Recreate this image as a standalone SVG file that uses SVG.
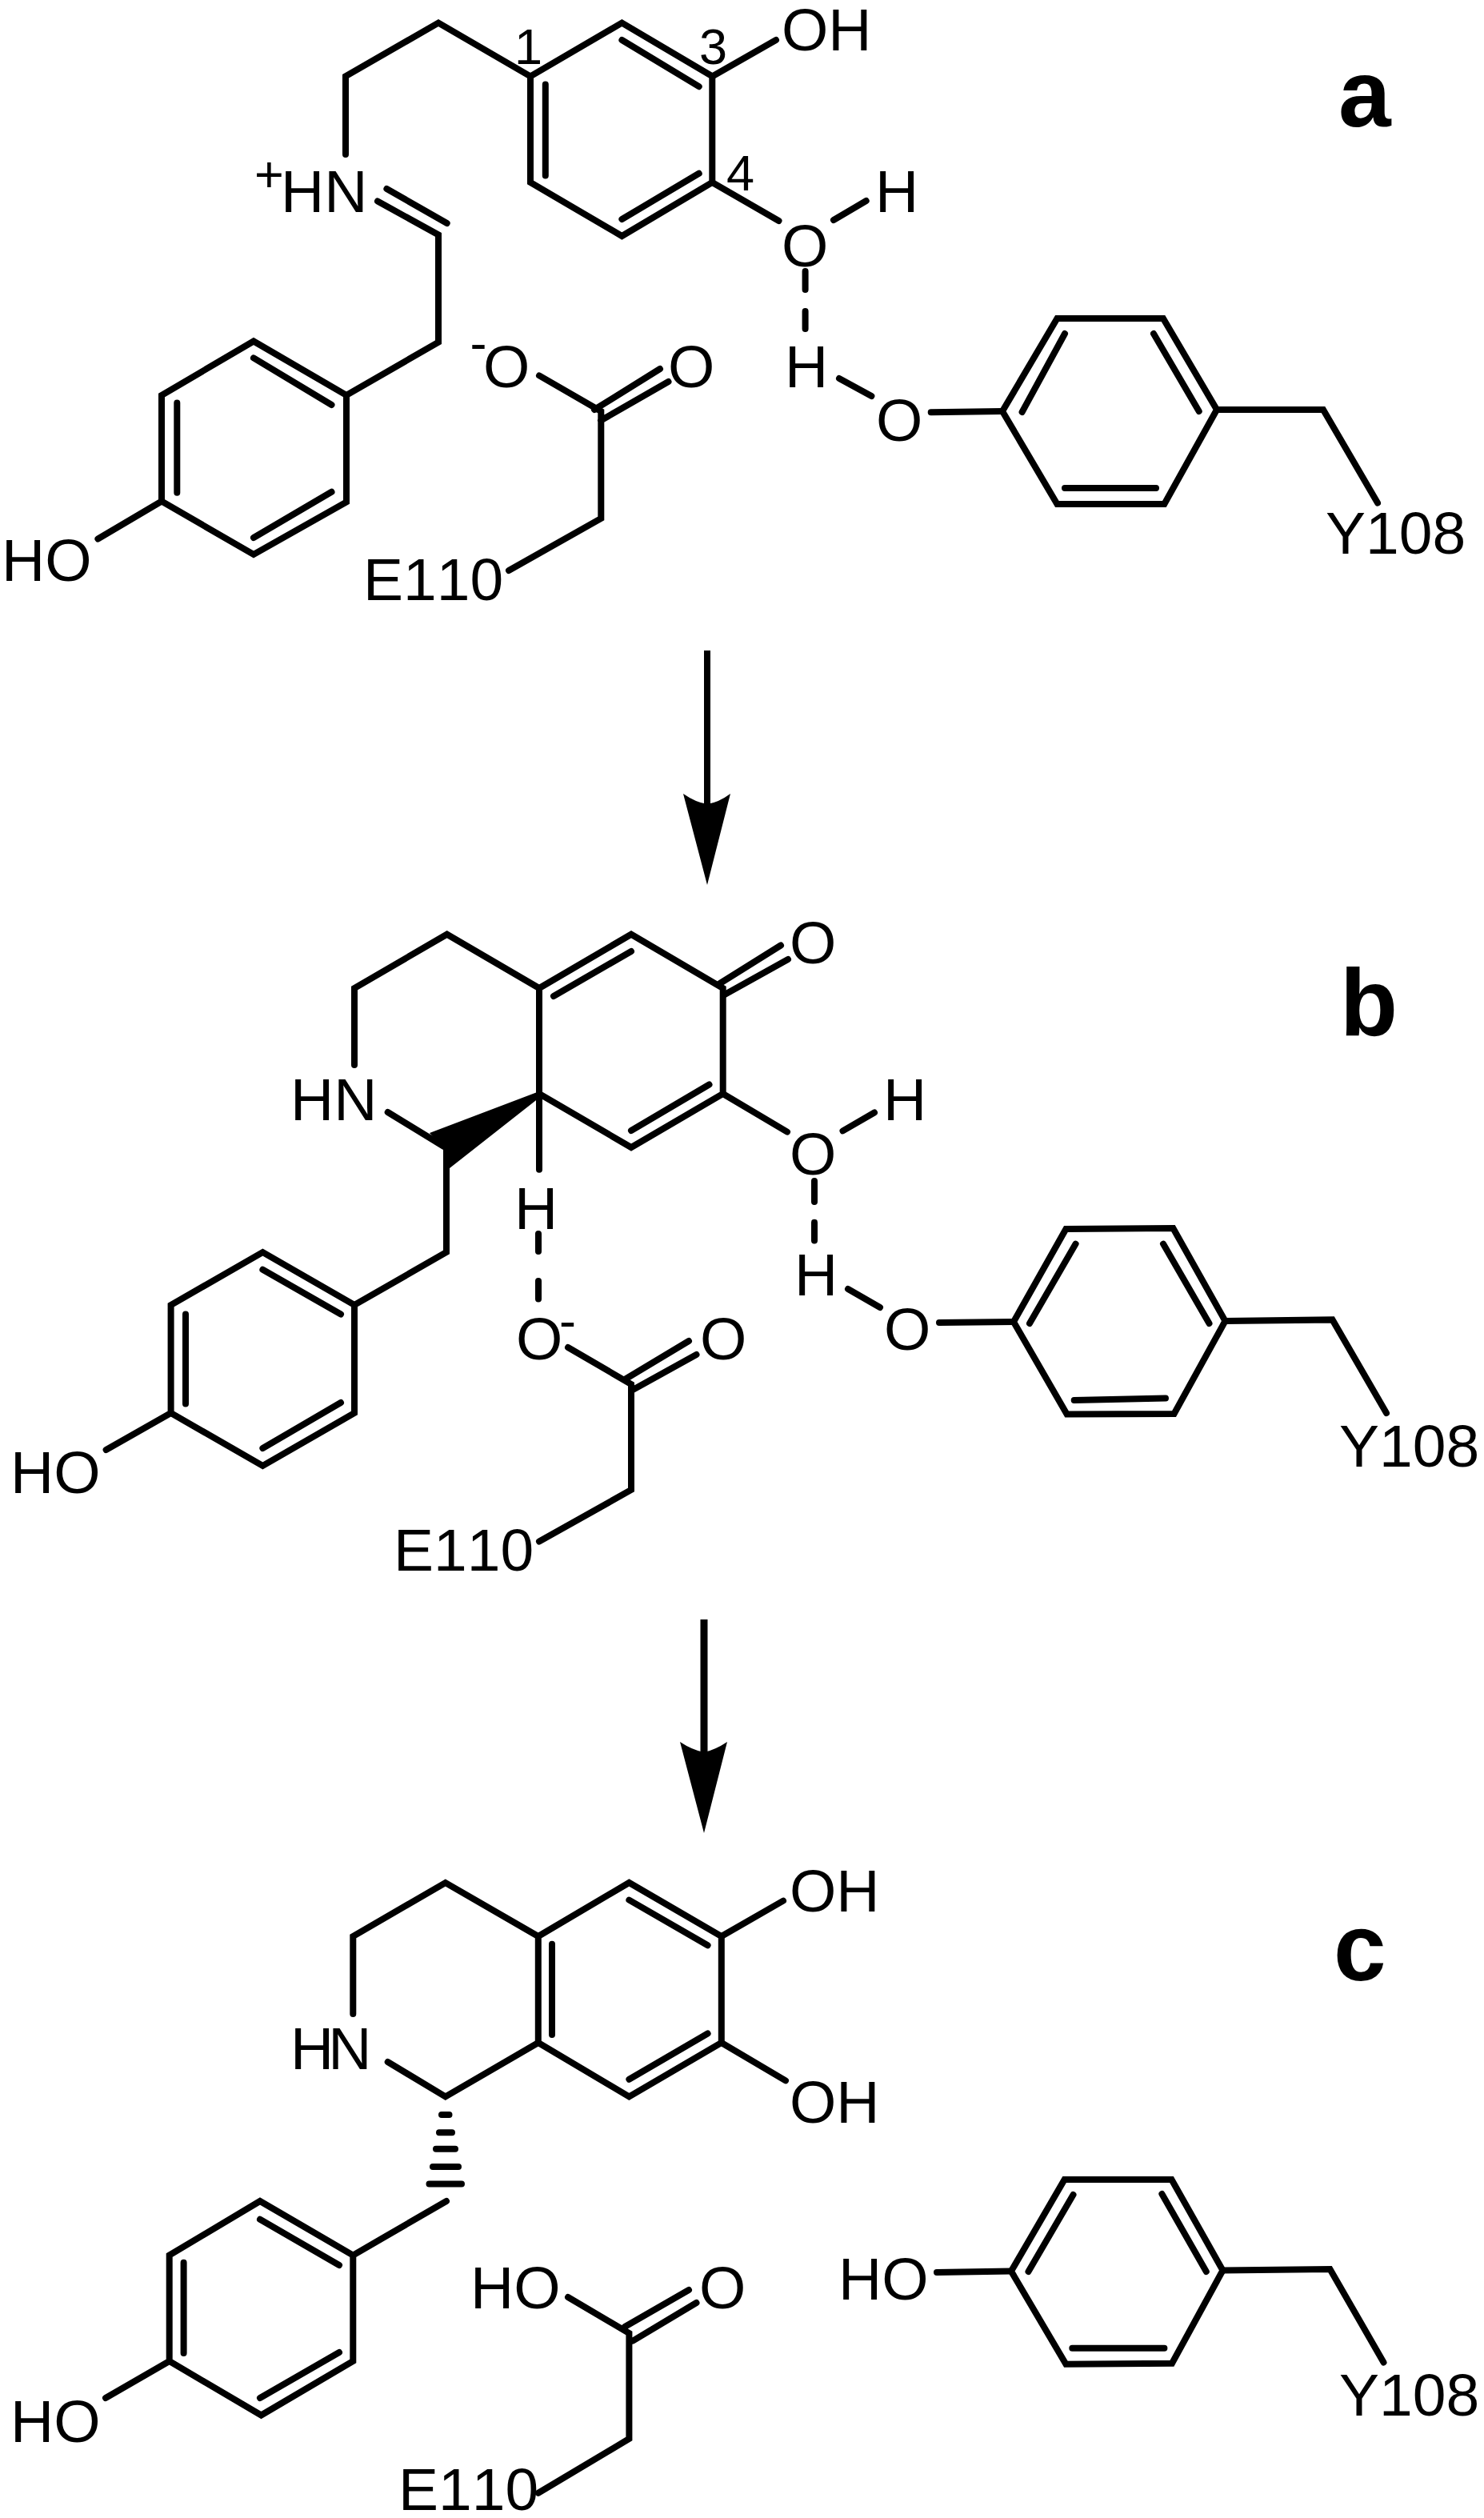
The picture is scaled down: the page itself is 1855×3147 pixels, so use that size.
<svg xmlns="http://www.w3.org/2000/svg" width="1855" height="3147" viewBox="0 0 1855 3147">
<style>
text{font-family:"Liberation Sans",Arial,sans-serif;fill:#000;font-kerning:none}
.t{font-size:75px}
.s{font-size:63px}
.l{font-size:118px;font-weight:700}
.b{fill:none;stroke:#000;stroke-width:8;stroke-linecap:round;stroke-linejoin:miter}
.h{fill:none;stroke:#000;stroke-width:8;stroke-linecap:round}
</style>
<rect width="1855" height="3147" fill="#fff"/>

<g id="connectors">
<g id="arrow-1">
<rect x="880" y="813" width="8" height="195" fill="#000"/>
<path d="M854 992Q870 1003 884 1005Q898 1003 913 992L884 1106Z" fill="#000"/>
</g>
<g id="arrow-2">
<rect x="875.5" y="2024" width="9" height="170" fill="#000"/>
<path d="M850 2177Q865 2187 880 2190Q894 2187 909 2177L880 2291Z" fill="#000"/>
</g>
</g>

<g id="panel-a">
<g id="a-substrate">
<path class="b" d="M432 193V95.4L548 28.6L663 95.4L777.4 28.6L890.3 95.4V228L777.4 295L663 228V95.4"/>
<path class="b" d="M681.8 105.6V219.4M777.4 50L873.7 108.2M873.7 216.8L777.4 274"/>
<path class="b" d="M890.3 95.4L970 50M890.3 228L973.5 276M1042 275L1082.7 251"/>
<path class="b" d="M472 251.5L548 293.4V427.6L433 494L317 426.5L202 494V626.5L317 693L433 627.5V494M483.4 236L558.7 279"/>
<path class="b" d="M317 447.4L414.5 506M221.3 503.6V615.8M414.5 614.8L317 672M202 626.5L122.4 673.5"/>
<text class="s" x="318" y="240">+</text>
<text class="t" x="351" y="265">HN</text>
<text class="s" x="643" y="80">1</text>
<text class="s" x="874" y="80">3</text>
<text class="s" x="908" y="238">4</text>
<text class="t" x="977" y="63">OH</text>
<text class="t" x="977" y="333">O</text>
<text class="t" x="1094" y="265">H</text>
<text class="t" x="2" y="726">HO</text>
</g>
<g id="a-e110">
<path class="b" d="M674 469.4L751.3 514V648L636 713M743 512L825 461M751 525.5L835.5 477"/>
<text class="s" x="587.6" y="450">-</text>
<text class="t" x="604" y="484">O</text>
<text class="t" x="835" y="484">O</text>
<text class="t" x="454" y="750">E110</text>
</g>
<g id="a-y108">
<path class="b" d="M1006.6 339V362M1006.6 389V411M1049 473L1089.4 495M1163.7 515.3L1253 514"/>
<path class="b" d="M1253 514L1321.4 398H1454L1521 512L1455.4 630H1321.4L1253 514M1331 417L1277.6 515M1442 417L1498.7 514M1331 610H1445"/>
<path class="b" d="M1521 512H1654L1722 628.6"/>
<text class="t" x="981" y="484">H</text>
<text class="t" x="1095" y="551">O</text>
<text class="t" x="1657" y="692">Y108</text>
</g>
<text id="label-a" class="l" x="1673" y="158">a</text>
</g>

<g id="panel-b">
<g id="b-substrate">
<path class="b" d="M443 1331V1235L558.7 1167.7L674 1235L789 1167.7L903.7 1235V1367L789 1434L674 1367V1235"/>
<path class="b" d="M692 1245L789 1189M789 1413L886.5 1355.5M900 1229L976 1181.5M905 1243.5L985 1199M903.7 1367L984 1414.6M1053.5 1413.4L1093 1390.5M674 1367V1461.7"/>
<path class="b" d="M484.7 1390L555 1433M558 1433V1565L443 1631L328.4 1565L213.6 1631V1766L328.4 1832L443 1766V1631M328.4 1586.8L426 1642.5M232 1642.5V1754.4M426 1753L328.4 1810M213.6 1766L132.6 1812"/>
<path d="M674 1364L537 1416L554 1435V1460H562L674 1372Z" fill="#000"/>
<text class="t" x="363" y="1400">HN</text>
<text class="t" x="987" y="1204">O</text>
<text class="t" x="987" y="1468">O</text>
<text class="t" x="1104" y="1400">H</text>
<text class="t" x="643" y="1536">H</text>
<text class="t" x="13" y="1866">HO</text>
</g>
<g id="b-e110">
<path class="b" d="M673 1542V1564M673 1601V1623.5M710 1684L789 1730V1862L674 1926.6M781 1724L861 1676M791 1737L870.5 1693"/>
<text class="t" x="645" y="1699">O</text>
<text class="s" x="699" y="1672">-</text>
<text class="t" x="875" y="1699">O</text>
<text class="t" x="492" y="1963">E110</text>
</g>
<g id="b-y108">
<path class="b" d="M1018 1476V1502M1018 1527.7V1550.6M1060 1611L1100 1634M1174 1653L1267 1652"/>
<path class="b" d="M1267 1652L1332.4 1536L1466.4 1535L1531.5 1651L1467.6 1767L1333.6 1767.6L1267 1652M1344.6 1554.6L1287 1654M1454 1554.6L1511.5 1654M1342.7 1750L1457 1747.5"/>
<path class="b" d="M1531.5 1651L1665.5 1649.4L1733 1766"/>
<text class="t" x="993" y="1619">H</text>
<text class="t" x="1105" y="1687">O</text>
<text class="t" x="1674" y="1833">Y108</text>
</g>
<text id="label-b" class="l" x="1675" y="1294">b</text>
</g>

<g id="panel-c">
<g id="c-substrate">
<path class="b" d="M441.3 2517V2420L556.8 2353L672.8 2420L786.4 2353L901.8 2420V2553L786.4 2620.4L672.8 2553V2420"/>
<path class="b" d="M690 2429.7V2543M786.4 2374.6L884.6 2431.3M884.6 2541.5L786.4 2598.8M901.8 2420L979 2375.6M901.8 2553L982 2600.4M484.7 2577L556.8 2620.4L672.8 2553"/>
<path class="h" d="M552 2643H561.5M549 2665.2H565M545 2685.7H569M541 2708H573M536.5 2729.5H577"/>
<path class="b" d="M558 2751L441.3 2818.6L325 2751L211.7 2818.6V2951L326.5 3018.5L441.3 2951V2818.6M325 2773.8L424 2831M229.6 2827.8V2941M424 2940L325 2997M211.7 2951L132 2997"/>
<text class="t" x="363" y="2586" letter-spacing="-7">HN</text>
<text class="t" x="987" y="2389">OH</text>
<text class="t" x="987" y="2653">OH</text>
<text class="t" x="13" y="3052">HO</text>
</g>
<g id="c-e110">
<path class="b" d="M710 2871L786.4 2916V3048L672.8 3115.8M781 2908L861 2862M791 2925.6L870.5 2878"/>
<text class="t" x="588" y="2884.5">HO</text>
<text class="t" x="874" y="2884.5">O</text>
<text class="t" x="498" y="3137">E110</text>
</g>
<g id="c-y108">
<path class="b" d="M1171 2840L1264 2838.6"/>
<path class="b" d="M1264 2838.6L1330.6 2724H1464.5L1528.5 2837.5L1465 2953.7L1332.4 2954.8L1264 2838.6M1341.5 2743L1285.5 2839M1452.4 2742L1507.8 2839M1340.3 2934.8H1455.4"/>
<path class="b" d="M1528.5 2837.5L1662.5 2836L1729.5 2952.6"/>
<text class="t" x="1048" y="2874">HO</text>
<text class="t" x="1674" y="3019">Y108</text>
</g>
<text id="label-c" class="l" x="1667" y="2475">c</text>
</g>
</svg>
